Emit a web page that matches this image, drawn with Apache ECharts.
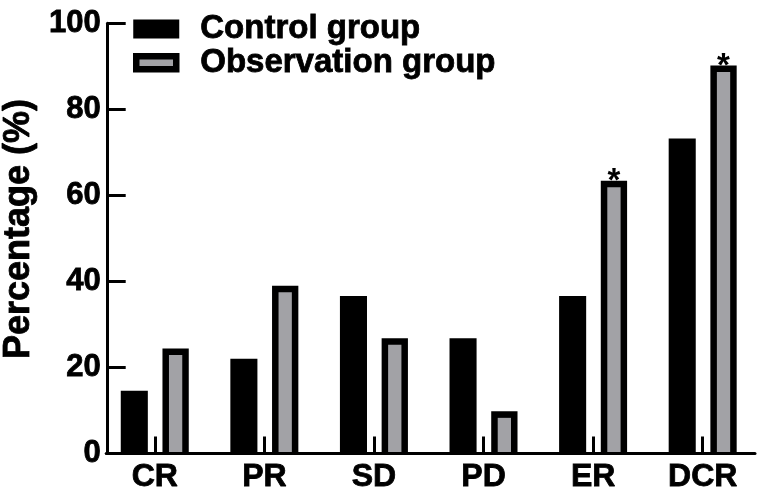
<!DOCTYPE html>
<html lang="en">
<head>
    <meta charset="UTF-8">
    <title>Percentage by response</title>
    <script src="https://cdn.jsdelivr.net/npm/echarts@6/dist/echarts.min.js"></script>
    <style>
        html, body { margin: 0; padding: 0; background: #fff; }
        #chart { width: 765px; height: 497px; }
    </style>
</head>
<body>
<div id="chart"></div>
<script type="text/javascript">
    // data
    var categories = ['CR', 'PR', 'SD', 'PD', 'ER', 'DCR'];
    var controlValues = [14.6, 22.0, 36.6, 26.8, 36.6, 73.2];
    var observationValues = [24.4, 39.0, 26.8, 9.8, 63.4, 90.2];
    var significance = ['', '', '', '', '*', '*'];
    var yTicks = [0, 20, 40, 60, 80, 100];

    var FONT = '"Liberation Sans", Arial, Helvetica, sans-serif';
    var GRAY = '#a2a2a6';
    var BORDER = 6.5;
    // a thin outline makes the bold text as heavy as in the picture
    var HEAVY = { textBorderColor: '#000', textBorderWidth: 0.8 };

    var myChart = echarts.init(document.getElementById('chart'));

    function controlBar(params, api) {
        var top = api.coord([api.value(0), api.value(1)]);
        var base = api.coord([api.value(0), 0]);
        var band = api.size([1, 0])[0];
        var w = band * 0.247;
        var cx = top[0] - band * 0.187;
        return {
            type: 'rect',
            shape: { x: cx - w / 2, y: top[1], width: w, height: base[1] - top[1] },
            style: { fill: '#000' }
        };
    }

    function observationBar(params, api) {
        var top = api.coord([api.value(0), api.value(1)]);
        var base = api.coord([api.value(0), 0]);
        var band = api.size([1, 0])[0];
        var w = band * 0.24;
        var cx = top[0] + band * 0.19;
        var h = base[1] - top[1];
        var children = [
            {
                type: 'rect',
                shape: { x: cx - w / 2, y: top[1], width: w, height: h },
                style: { fill: '#000' }
            },
            {
                type: 'rect',
                shape: { x: cx - w / 2 + BORDER, y: top[1] + BORDER, width: w - 2 * BORDER, height: Math.max(h - BORDER, 0) },
                style: { fill: GRAY }
            }
        ];
        var mark = significance[params.dataIndex];
        if (mark) {
            children.push({
                type: 'text',
                x: cx,
                y: top[1] + 1,
                style: {
                    text: mark,
                    fill: '#000',
                    font: 'bold 33px ' + FONT,
                    align: 'center',
                    verticalAlign: 'middle'
                }
            });
        }
        return { type: 'group', children: children };
    }

    var option = {
        animation: false,
        backgroundColor: '#fff',
        legend: {
            orient: 'vertical',
            left: 133,
            top: 12,
            padding: 0,
            itemGap: 0,
            itemWidth: 40,
            itemHeight: 13,
            textStyle: Object.assign({
                fontFamily: FONT,
                fontWeight: 'bold',
                fontSize: 33,
                color: '#000',
                padding: [0, 0, 0, 19]
            }, HEAVY),
            data: [
                { name: 'Control group', icon: 'rect', itemStyle: { color: '#000', borderColor: '#000', borderWidth: 6 } },
                { name: 'Observation group', icon: 'rect', itemStyle: { color: GRAY, borderColor: '#000', borderWidth: 6.5 } }
            ]
        },
        graphic: [{
            type: 'text',
            x: 19,
            y: 229,
            rotation: Math.PI / 2,
            style: {
                text: 'Percentage (%)',
                font: 'bold 36px ' + FONT,
                fill: '#000',
                stroke: '#000',
                lineWidth: 0.8,
                align: 'center',
                verticalAlign: 'middle'
            }
        }],
        grid: [
            { left: 100, top: 23.3, width: 657.5, height: 430.2 },
            { left: 106.2, top: 23.3, width: 648.8, height: 430.2 }
        ],
        xAxis: [
            {
                type: 'category',
                gridIndex: 0,
                data: categories,
                z: 10,
                axisLine: { show: false },
                axisTick: {
                    show: true,
                    inside: true,
                    alignWithLabel: true,
                    length: 17,
                    lineStyle: { color: '#000', width: 3 }
                },
                axisLabel: Object.assign({
                    margin: 8,
                    color: '#000',
                    fontFamily: FONT,
                    fontWeight: 'bold',
                    fontSize: 32
                }, HEAVY)
            },
            {
                type: 'value',
                gridIndex: 1,
                min: 0,
                max: 1,
                z: 10,
                axisLine: { show: true, lineStyle: { color: '#000', width: 3 } },
                axisTick: { show: false },
                axisLabel: { show: false },
                splitLine: { show: false }
            }
        ],
        yAxis: [
            {
                type: 'value',
                gridIndex: 0,
                min: yTicks[0],
                max: yTicks[yTicks.length - 1],
                interval: 20,
                offset: -7.7,
                z: 10,
                axisLine: { show: true, lineStyle: { color: '#000', width: 3 } },
                axisTick: {
                    show: true,
                    inside: true,
                    length: 18,
                    lineStyle: { color: '#000', width: 3 }
                },
                axisLabel: Object.assign({
                    margin: 7,
                    color: '#000',
                    fontFamily: FONT,
                    fontWeight: 'bold',
                    fontSize: 31
                }, HEAVY),
                splitLine: { show: false }
            },
            {
                type: 'value',
                gridIndex: 1,
                min: 0,
                max: 1,
                show: false
            }
        ],
        series: [
            {
                name: 'Control group',
                type: 'custom',
                xAxisIndex: 0,
                yAxisIndex: 0,
                itemStyle: { color: '#000' },
                renderItem: controlBar,
                encode: { x: 0, y: 1 },
                data: controlValues.map(function (v, i) { return [i, v]; })
            },
            {
                name: 'Observation group',
                type: 'custom',
                xAxisIndex: 0,
                yAxisIndex: 0,
                itemStyle: { color: GRAY },
                renderItem: observationBar,
                encode: { x: 0, y: 1 },
                data: observationValues.map(function (v, i) { return [i, v]; })
            }
        ]
    };

    myChart.setOption(option);
</script>
</body>
</html>
